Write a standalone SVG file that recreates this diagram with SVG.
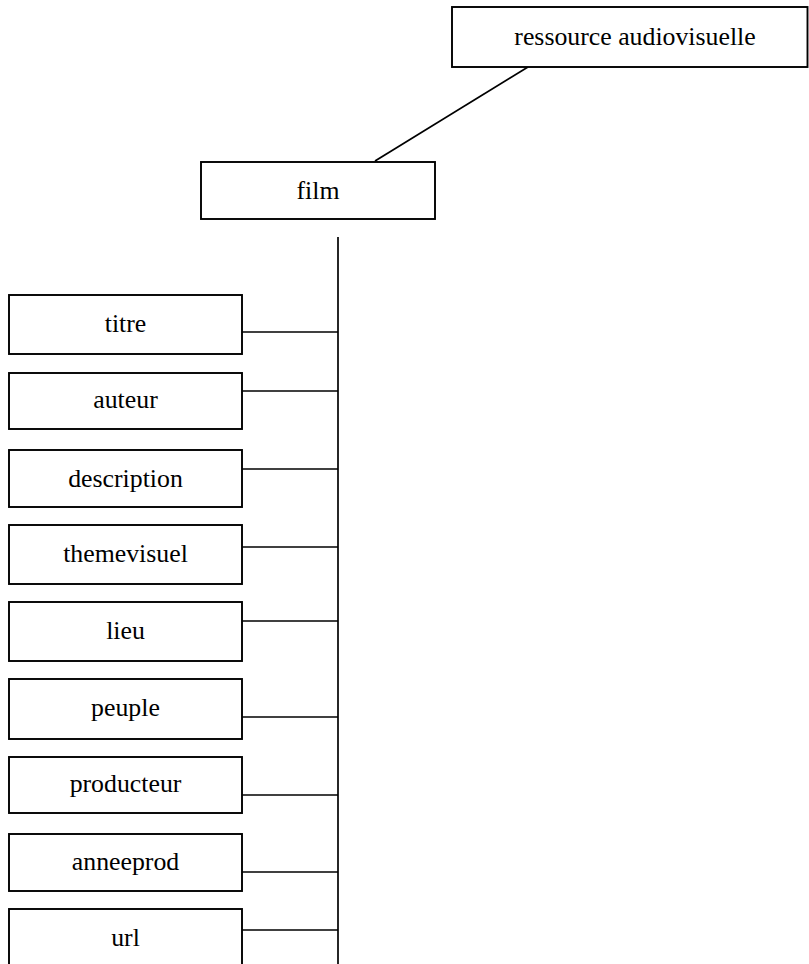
<svg xmlns="http://www.w3.org/2000/svg" width="809" height="964" viewBox="0 0 809 964">
<style>
.box{fill:#fff;stroke:#000;stroke-width:1.9}
.lbl{font-family:"Liberation Serif","Times New Roman",serif;font-size:25.8px;fill:#000;text-anchor:middle}
.con{stroke:#000;stroke-width:1.7;fill:none}
</style>
<rect width="809" height="964" fill="#fff"/>
<g id="connectors">
<line class="con" x1="528" y1="67" x2="375" y2="161"/>
<line class="con" x1="338" y1="237" x2="338" y2="964"/>
<line class="con" x1="242" y1="332" x2="338" y2="332"/>
<line class="con" x1="242" y1="391" x2="338" y2="391"/>
<line class="con" x1="242" y1="469" x2="338" y2="469"/>
<line class="con" x1="242" y1="547" x2="338" y2="547"/>
<line class="con" x1="242" y1="621" x2="338" y2="621"/>
<line class="con" x1="242" y1="717" x2="338" y2="717"/>
<line class="con" x1="242" y1="795" x2="338" y2="795"/>
<line class="con" x1="242" y1="872" x2="338" y2="872"/>
<line class="con" x1="242" y1="930" x2="338" y2="930"/>
</g>
<g id="ressource">
<rect class="box" x="452" y="7" width="355.5" height="60"/>
<text class="lbl" x="635" y="45">ressource audiovisuelle</text>
</g>
<g id="film">
<rect class="box" x="201" y="162" width="234" height="57"/>
<text class="lbl" x="318" y="199">film</text>
</g>
<g id="titre">
<rect class="box" x="9" y="295" width="233" height="59"/>
<text class="lbl" x="125.5" y="332">titre</text>
</g>
<g id="auteur">
<rect class="box" x="9" y="373" width="233" height="56"/>
<text class="lbl" x="125.5" y="408">auteur</text>
</g>
<g id="description">
<rect class="box" x="9" y="450" width="233" height="57"/>
<text class="lbl" x="125.5" y="487">description</text>
</g>
<g id="themevisuel">
<rect class="box" x="9" y="525" width="233" height="59"/>
<text class="lbl" x="125.5" y="562">themevisuel</text>
</g>
<g id="lieu">
<rect class="box" x="9" y="602" width="233" height="59"/>
<text class="lbl" x="125.5" y="639">lieu</text>
</g>
<g id="peuple">
<rect class="box" x="9" y="679" width="233" height="60"/>
<text class="lbl" x="125.5" y="716">peuple</text>
</g>
<g id="producteur">
<rect class="box" x="9" y="757" width="233" height="56"/>
<text class="lbl" x="125.5" y="792">producteur</text>
</g>
<g id="anneeprod">
<rect class="box" x="9" y="834" width="233" height="57"/>
<text class="lbl" x="125.5" y="870">anneeprod</text>
</g>
<g id="url">
<rect class="box" x="9" y="909" width="233" height="60"/>
<text class="lbl" x="125.5" y="946">url</text>
</g>
</svg>
